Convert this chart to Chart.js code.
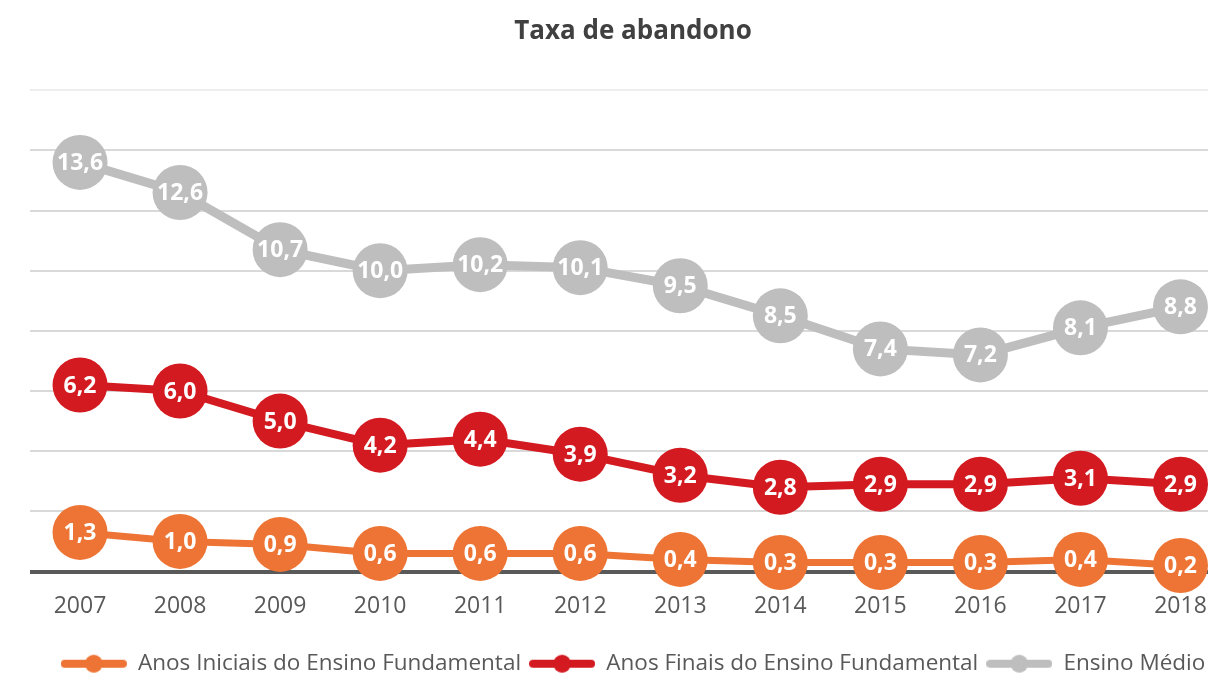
<!DOCTYPE html>
<html>
<head>
<meta charset="utf-8">
<script src="https://cdn.jsdelivr.net/npm/chart.js@4/dist/chart.umd.min.js"></script>
<style>
html,body{margin:0;padding:0;background:#fff;overflow:hidden;}
#wrap{width:1208px;height:677px;position:relative;overflow:hidden;}
#c{position:absolute;left:0;top:0;}
</style>
</head>
<body>
<div id="wrap"><canvas id="c" width="1236" height="677"></canvas></div>
<script>
const years = [2007,2008,2009,2010,2011,2012,2013,2014,2015,2016,2017,2018];
const anosIniciais = [1.3,1.0,0.9,0.6,0.6,0.6,0.4,0.3,0.3,0.3,0.4,0.2];
const anosFinais = [6.2,6.0,5.0,4.2,4.4,3.9,3.2,2.8,2.9,2.9,3.1,2.9];
const ensinoMedio = [13.6,12.6,10.7,10.0,10.2,10.1,9.5,8.5,7.4,7.2,8.1,8.8];
const seriesNames = ['Anos Iniciais do Ensino Fundamental','Anos Finais do Ensino Fundamental','Ensino Médio'];
const yTicks = [0,2,4,6,8,10,12,14,16];

const colors = ['#ed7434','#d31a20','#bebebe'];
const lineWidths = [7,8,9];

function legendIcon(color){
  const cv = document.createElement('canvas');
  cv.width = 66; cv.height = 22;
  const g = cv.getContext('2d');
  g.strokeStyle = color; g.lineWidth = 8; g.lineCap = 'round';
  g.beginPath(); g.moveTo(4,11); g.lineTo(62,11); g.stroke();
  g.fillStyle = color;
  g.beginPath(); g.arc(33,11,9,0,Math.PI*2); g.fill();
  return cv;
}

const toPts = arr => years.map((y,i)=>({x:y,y:arr[i]}));
const allSeries = [anosIniciais, anosFinais, ensinoMedio];

const datasets = allSeries.map((arr,i)=>({
  label: seriesNames[i],
  data: toPts(arr),
  borderColor: colors[i],
  backgroundColor: colors[i],
  pointBackgroundColor: colors[i],
  pointBorderColor: colors[i],
  pointBorderWidth: 0,
  pointRadius: 27.5,
  pointHoverRadius: 27.5,
  borderWidth: lineWidths[i],
  tension: 0,
  clip: false
}));

const labelPlugin = {
  id: 'valueLabels',
  afterDatasetsDraw(chart){
    const ctx = chart.ctx;
    ctx.save();
    ctx.fillStyle = '#ffffff';
    ctx.font = 'bold 23px "Open Sans"';
    ctx.textAlign = 'center';
    ctx.textBaseline = 'middle';
    chart.data.datasets.forEach((ds,di)=>{
      const meta = chart.getDatasetMeta(di);
      meta.data.forEach((el,i)=>{
        const v = allSeries[di][i];
        ctx.fillText(v.toFixed(1).replace('.',','), el.x, el.y+1);
      });
    });
    ctx.restore();
  }
};

new Chart(document.getElementById('c'), {
  type: 'line',
  data: { datasets },
  options: {
    responsive: false,
    animation: false,
    events: [],
    layout: { padding: { left: 30, right: 0, top: 0, bottom: -8 } },
    plugins: {
      tooltip: { enabled: false },
      title: {
        display: true,
        text: 'Taxa de abandono',
        color: '#404040',
        font: { family: '"Open Sans"', size: 26, weight: 'bold' },
        padding: { top: 16, bottom: 43 }
      },
      legend: {
        position: 'bottom',
        labels: {
          usePointStyle: true,
          pointStyleWidth: 66,
          boxHeight: 22,
          padding: 8,
          color: '#595959',
          font: { family: '"Open Sans"', size: 22.5 },
          generateLabels(chart){
            return chart.data.datasets.map((ds,i)=>({
              text: ds.label,
              fontColor: '#595959',
              pointStyle: legendIcon(colors[i]),
              fillStyle: colors[i],
              strokeStyle: colors[i],
              lineWidth: 0,
              hidden: false,
              datasetIndex: i
            }));
          }
        }
      }
    },
    scales: {
      x: {
        type: 'linear',
        min: 2006.5,
        max: 2018.28,
        afterBuildTicks(scale){ scale.ticks = years.map(v=>({value:v})); },
        afterFit(scale){ scale.paddingLeft = 0; scale.paddingRight = 0; scale.height = 73; },
        grid: { display: false, drawTicks: false },
        border: { display: false },
        ticks: {
          color: '#595959',
          font: { family: '"Open Sans"', size: 23, lineHeight: '70px' },
          padding: 0,
          maxRotation: 0,
          autoSkip: false,
          callback: v => String(v)
        }
      },
      y: {
        min: 0,
        max: 16,
        afterBuildTicks(scale){ scale.ticks = yTicks.map(v=>({value:v})); },
        afterFit(scale){ scale.width = 0; },
        ticks: { display: false },
        border: { display: false },
        grid: {
          drawTicks: false,
          color: c => c.tick.value === 0 ? '#595959' : (c.tick.value === 16 ? '#eeeeee' : '#d9d9d9'),
          lineWidth: c => c.tick.value === 0 ? 4 : 2
        }
      }
    }
  },
  plugins: [labelPlugin]
});
</script>
</body>
</html>
